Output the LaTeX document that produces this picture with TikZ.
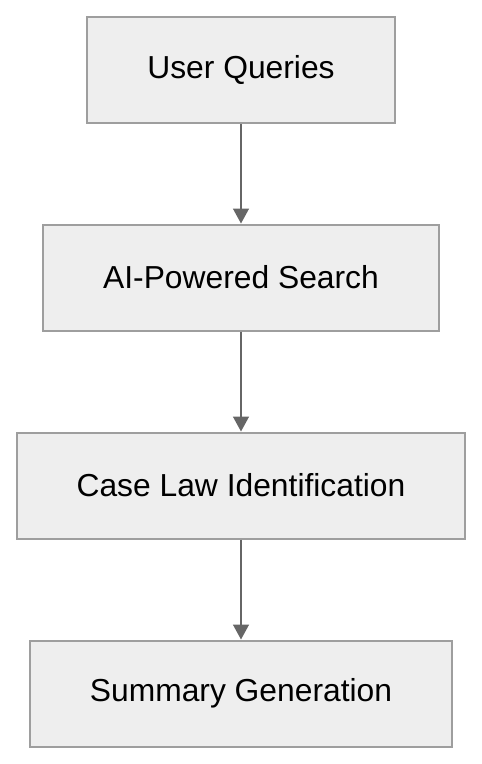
\documentclass[tikz,border=0pt]{standalone}
\usepackage{fontspec}
\setmainfont{Liberation Sans}
\usepackage{xcolor}
\usepackage{tikz}
\usetikzlibrary{shapes,arrows.meta}

\definecolor{boxfill}{HTML}{EEEEEE}
\definecolor{boxline}{HTML}{9E9E9E}
\definecolor{arrline}{HTML}{666666}

\tikzset{
    box/.style = {rectangle, draw = boxline, line width = 2pt, fill = boxfill,
        minimum height = 106pt, inner xsep = 60pt,
        font = \fontsize{31.8pt}{38pt}\selectfont},
    flow/.style = {draw = arrline, line width = 1.5pt,
        -{Triangle[width = 16pt, length = 15pt]}, arrline}
}

\begin{document}
\begin{tikzpicture}[x=1pt, y=1pt]
    	\useasboundingbox (0,0) rectangle (482,-764);
    	
    	\node (uq)[box] at (241,-70) {User Queries};
    	\node (ai)[box] at (241,-277.5) {AI-Powered Search};
    	\node (cl)[box] at (241,-485.5) {Case Law Identification};
    	\node (sg)[box] at (241,-693.5) {Summary Generation};
    	
    	\draw[flow] (uq.south) -- (ai.north);
    	\draw[flow] (ai.south) -- (cl.north);
    	\draw[flow] (cl.south) -- (sg.north);
\end{tikzpicture}
\end{document}
